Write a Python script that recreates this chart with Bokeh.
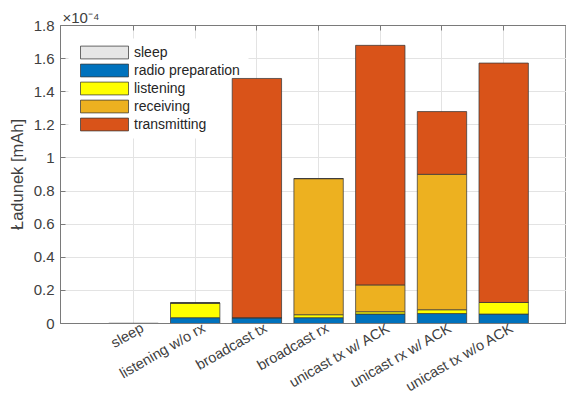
import math
from bokeh.plotting import figure
from bokeh.models import (ColumnDataSource, FixedTicker, Range1d, LinearAxis, Title,
                          BoxAnnotation)
from bokeh.embed import file_html
from bokeh.resources import INLINE

# ---- data (values in units of 1e-4 mAh) ----
categories = ["sleep", "listening w/o rx", "broadcast tx", "broadcast rx",
              "unicast tx w/ ACK", "unicast rx w/ ACK", "unicast tx w/o ACK"]
sleep = [0.0001, 0.0001, 0.0001, 0.0001, 0.0001, 0.0001, 0.0001]
radio_preparation = [0.0, 0.035, 0.035, 0.035, 0.057, 0.060, 0.057]
listening = [0.0, 0.089, 0.0, 0.018, 0.014, 0.023, 0.070]
receiving = [0.0, 0.0, 0.0, 0.822, 0.162, 0.818, 0.0]
transmitting = [0.0, 0.0, 1.445, 0.0, 1.447, 0.379, 1.446]

series_names = ["sleep", "radio preparation", "listening", "receiving", "transmitting"]
series_colors = ["#e6e6e6", "#0072bd", "#ffff00", "#edb120", "#d95319"]

ytick_values = [0, 0.2, 0.4, 0.6, 0.8, 1, 1.2, 1.4, 1.6, 1.8]
ytick_labels = ["0", "0.2", "0.4", "0.6", "0.8", "1", "1.2", "1.4", "1.6", "1.8"]
exponent_text = "×10⁻⁴"

FONT = "Liberation Sans"
TXT = "#404040"
AXC = "#7a7a7a"

# layout
W, H = 566, 407
BL, BT, BB = 60, 25, 84
X0, X1 = -1.183, 7.018
Y0, Y1 = 0.0, 1.8
frame_w, frame_h = W - BL, H - BT - BB
px_x = frame_w / (X1 - X0)
px_y = frame_h / (Y1 - Y0)

xs = list(range(len(categories)))
label_shift = 0.14  # MATLAB puts the end of rotated labels slightly right of the tick
label_pos = [i + label_shift for i in xs]

source = ColumnDataSource(dict(
    x=xs,
    sleep=sleep,
    radio=radio_preparation,
    listening=listening,
    receiving=receiving,
    transmitting=transmitting,
))

p = figure(width=W, height=H, output_backend="svg", toolbar_location=None,
           x_range=Range1d(X0, X1), y_range=Range1d(Y0, Y1),
           min_border_left=BL, min_border_right=0, min_border_top=BT,
           min_border_bottom=BB, x_axis_location=None)

p.vbar_stack(["sleep", "radio", "listening", "receiving", "transmitting"],
             x="x", width=0.8, color=series_colors, source=source,
             line_color="#3a3a3a", line_alpha=0.75, line_width=1,
             legend_label=series_names)

# bottom axis: axis line + rotated category names
label_axis = LinearAxis(ticker=FixedTicker(ticks=label_pos),
                        major_label_overrides={v: c for v, c in zip(label_pos, categories)},
                        major_label_orientation=math.pi / 6,
                        major_label_text_font=FONT, major_label_text_font_size="14.5px",
                        major_label_text_color=TXT, major_label_standoff=-3,
                        axis_line_color=AXC, major_tick_line_color=None,
                        minor_tick_line_color=None)
p.add_layout(label_axis, "below")

# top axis: ticks only
top_axis = LinearAxis(ticker=FixedTicker(ticks=xs),
                      major_label_overrides={i: "" for i in xs},
                      major_label_text_font_size="1px", major_label_standoff=0,
                      axis_line_color=AXC, major_tick_line_color=AXC,
                      major_tick_in=5, major_tick_out=0, minor_tick_line_color=None)
p.add_layout(top_axis, "above")

yax = p.yaxis[0]
yax.ticker = FixedTicker(ticks=ytick_values)
yax.major_label_overrides = {v: l for v, l in zip(ytick_values, ytick_labels)}
yax.axis_label = "Ładunek [mAh]"
yax.axis_line_color = AXC
yax.major_tick_line_color = AXC
yax.major_tick_in = 5
yax.major_tick_out = 0
yax.minor_tick_line_color = None
yax.major_label_text_font = FONT
yax.major_label_text_font_size = "15px"
yax.major_label_text_color = TXT
yax.major_label_standoff = 6
yax.axis_label_text_font = FONT
yax.axis_label_text_font_size = "16.5px"
yax.axis_label_text_font_style = "normal"
yax.axis_label_text_color = TXT
yax.axis_label_standoff = 5

p.xgrid.grid_line_color = "#e3e3e3"
p.ygrid.grid_line_color = "#e3e3e3"
p.xgrid.ticker = FixedTicker(ticks=xs)
p.outline_line_color = "#9a9a9a"
p.background_fill_color = "white"
p.border_fill_color = "white"

# exponent shown above the y axis
p.add_layout(Title(text=exponent_text, align="left", text_font=FONT,
                   text_font_size="15px", text_font_style="normal", text_color=TXT,
                   standoff=0, offset=2), "above")

# legend: transparent box; a white patch under the bars hides the grid behind it
LEG_X, LEG_TOP, LEG_W, LEG_H = 8, 13, 180, 100
p.add_layout(BoxAnnotation(left=X0 + LEG_X / px_x, right=X0 + (LEG_X + LEG_W) / px_x,
                           top=Y1 - LEG_TOP / px_y, bottom=Y1 - (LEG_TOP + LEG_H) / px_y,
                           fill_color="white", fill_alpha=1.0, line_color=None,
                           level="underlay"))

lg = p.legend[0]
lg.location = (LEG_X, frame_h - LEG_TOP - LEG_H)
lg.glyph_width = 60
lg.glyph_height = 16
lg.label_height = 14
lg.label_standoff = 0
lg.spacing = 2
lg.padding = 6
lg.margin = 0
lg.label_text_font = FONT
lg.label_text_font_size = "14px"
lg.label_text_color = "#262626"
lg.border_line_alpha = 0
lg.background_fill_alpha = 0.0

open("out.html", "w").write(file_html(p, INLINE))
